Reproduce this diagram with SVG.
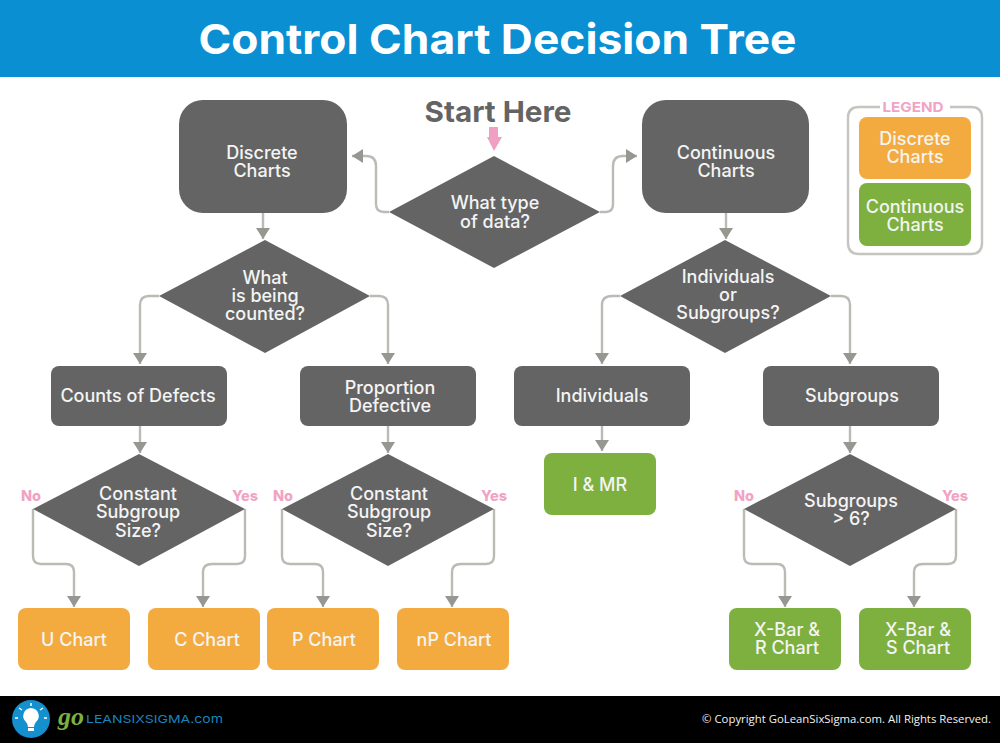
<svg xmlns="http://www.w3.org/2000/svg" width="1000" height="743" viewBox="0 0 1000 743">
<style>
text{font-family:Inter,"Open Sans",sans-serif;text-anchor:middle}
.t{font-size:18px;fill:#f4f4f4;font-weight:500}
.g{fill:#646464}
.o{fill:#f3ab3f}
.v{fill:#7db03f}
.c{fill:none;stroke:#bbbbb5;stroke-width:2.4}
.p{font-size:14.5px;font-weight:800;fill:#f0a3c4}
</style>
<defs>
<marker id="a" markerUnits="userSpaceOnUse" markerWidth="13" markerHeight="14" refX="11" refY="7" orient="auto"><path d="M0 0L11 7L0 14Z" fill="#979792"/></marker>
</defs>
<rect width="1000" height="743" fill="#fff"/>
<rect width="1000" height="77" fill="#0b8fd3"/>
<text x="497.500" y="54" font-size="41.500" font-weight="700" fill="#fff" textLength="598" lengthAdjust="spacingAndGlyphs">Control Chart Decision Tree</text>
<g id="connectors">
<path class="c" marker-end="url(#a)" d="M389 212H384Q376 212 376 204V166Q376 156 366 156H352"/>
<path class="c" marker-end="url(#a)" d="M600 212H606Q613 212 613 204V166Q613 156 623 156H637"/>
<path class="c" marker-end="url(#a)" d="M263 212V239"/>
<path class="c" marker-end="url(#a)" d="M726 212V239"/>
<path class="c" marker-end="url(#a)" d="M159 296H149Q140 296 140 305V364"/>
<path class="c" marker-end="url(#a)" d="M370 296H379Q388 296 388 305V364"/>
<path class="c" marker-end="url(#a)" d="M620 296H612Q602 296 602 305V364"/>
<path class="c" marker-end="url(#a)" d="M831 296H841Q850 296 850 305V364"/>
<path class="c" marker-end="url(#a)" d="M140 426V453"/>
<path class="c" marker-end="url(#a)" d="M388 426V453"/>
<path class="c" marker-end="url(#a)" d="M602 426V451"/>
<path class="c" marker-end="url(#a)" d="M850 426V453"/>
<path class="c" d="M33 509V556Q33 564 41 564H66Q74 564 74 572V607" marker-end="url(#a)"/>
<path class="c" d="M245 509V556Q245 564 237 564H212Q203 564 203 572V607" marker-end="url(#a)"/>
<path class="c" d="M282 509V556Q282 564 290 564H315Q323 564 323 572V607" marker-end="url(#a)"/>
<path class="c" d="M494 509V556Q494 564 486 564H461Q452 564 452 572V607" marker-end="url(#a)"/>
<path class="c" d="M744 509V556Q744 564 752 564H777Q785 564 785 572V607" marker-end="url(#a)"/>
<path class="c" d="M956 509V556Q956 564 948 564H923Q914 564 914 572V607" marker-end="url(#a)"/>
</g>
<g id="start">
<text x="498" y="122" font-size="29" font-weight="700" fill="#646464" textLength="147" lengthAdjust="spacingAndGlyphs">Start Here</text>
<path d="M489 127H498V137H502L494 151L487 137H489Z" fill="#f0a0c3"/>
</g>
<g id="n-type"><path class="g" d="M494 156L600 212L494 268L389 212Z"/><text class="t"><tspan x="495" y="209">What type</tspan><tspan x="495" y="228">of data?</tspan></text></g>
<g id="n-discrete"><rect class="g" x="179" y="100" width="168" height="113" rx="24"/><text class="t"><tspan x="262" y="159">Discrete</tspan><tspan x="262" y="177">Charts</tspan></text></g>
<g id="n-continuous"><rect class="g" x="642" y="100" width="167" height="113" rx="24"/><text class="t"><tspan x="726" y="159">Continuous</tspan><tspan x="726" y="177">Charts</tspan></text></g>
<g id="n-counted"><path class="g" d="M265 240L370 296L265 353L159 296Z"/><text class="t"><tspan x="265" y="284">What</tspan><tspan x="265" y="302">is being</tspan><tspan x="265" y="320">counted?</tspan></text></g>
<g id="n-indsub"><path class="g" d="M725 240L831 296L725 353L620 296Z"/><text class="t"><tspan x="728" y="283">Individuals</tspan><tspan x="728" y="301">or</tspan><tspan x="728" y="319">Subgroups?</tspan></text></g>
<g id="n-defects"><rect class="g" x="51" y="366" width="176" height="60" rx="8"/><text class="t" x="138" y="402">Counts of Defects</text></g>
<g id="n-proportion"><rect class="g" x="300" y="366" width="176" height="60" rx="8"/><text class="t"><tspan x="390" y="394">Proportion</tspan><tspan x="390" y="412">Defective</tspan></text></g>
<g id="n-individuals"><rect class="g" x="514" y="366" width="176" height="60" rx="8"/><text class="t" x="602" y="402">Individuals</text></g>
<g id="n-subgroups"><rect class="g" x="763" y="366" width="176" height="60" rx="8"/><text class="t" x="852" y="402">Subgroups</text></g>
<g id="n-imr"><rect class="v" x="544" y="453" width="112" height="62" rx="8"/><text class="t" x="600" y="491">I &amp; MR</text></g>
<g id="n-size1"><path class="g" d="M139 454L245 509L139 566L33 509Z"/><text class="t"><tspan x="138" y="500">Constant</tspan><tspan x="138" y="518">Subgroup</tspan><tspan x="138" y="537">Size?</tspan></text><text class="p" x="31" y="501">No</text><text class="p" x="245" y="501">Yes</text></g>
<g id="n-size2"><path class="g" d="M388 454L494 509L388 566L282 509Z"/><text class="t"><tspan x="389" y="500">Constant</tspan><tspan x="389" y="518">Subgroup</tspan><tspan x="389" y="537">Size?</tspan></text><text class="p" x="283" y="501">No</text><text class="p" x="494" y="501">Yes</text></g>
<g id="n-size3"><path class="g" d="M850 454L956 509L850 566L744 509Z"/><text class="t"><tspan x="851" y="507">Subgroups</tspan><tspan x="851" y="525">&gt; 6?</tspan></text><text class="p" x="744" y="501">No</text><text class="p" x="955" y="501">Yes</text></g>
<g id="n-u"><rect class="o" x="18" y="608" width="112" height="62" rx="8"/><text class="t" x="74" y="646">U Chart</text></g>
<g id="n-c"><rect class="o" x="148" y="608" width="112" height="62" rx="8"/><text class="t" x="207" y="646">C Chart</text></g>
<g id="n-p"><rect class="o" x="267" y="608" width="112" height="62" rx="8"/><text class="t" x="324" y="646">P Chart</text></g>
<g id="n-np"><rect class="o" x="397" y="608" width="112" height="62" rx="8"/><text class="t" x="454" y="646">nP Chart</text></g>
<g id="n-xr"><rect class="v" x="729" y="608" width="112" height="62" rx="8"/><text class="t"><tspan x="787" y="636">X-Bar &amp;</tspan><tspan x="787" y="654">R Chart</tspan></text></g>
<g id="n-xs"><rect class="v" x="859" y="608" width="112" height="62" rx="8"/><text class="t"><tspan x="918" y="636">X-Bar &amp;</tspan><tspan x="918" y="654">S Chart</tspan></text></g>
<g id="legend">
<path d="M880 107H859Q848 107 848 118V243Q848 254 859 254H971Q982 254 982 243V118Q982 107 971 107H950" fill="none" stroke="#c4c4c0" stroke-width="2.400"/>
<text x="913" y="112" font-size="13.500" font-weight="700" fill="#f0a3c4" textLength="61" lengthAdjust="spacingAndGlyphs">LEGEND</text>
<rect class="o" x="859" y="117" width="112" height="62" rx="8"/><text class="t"><tspan x="915" y="145">Discrete</tspan><tspan x="915" y="163">Charts</tspan></text>
<rect class="v" x="859" y="183" width="112" height="63" rx="8"/><text class="t"><tspan x="915" y="213">Continuous</tspan><tspan x="915" y="231">Charts</tspan></text>
</g>
<g id="footer">
<rect y="696" width="1000" height="47" fill="#000"/>
<circle cx="31" cy="719" r="19" fill="#1490cf"/>
<path d="M31 708A8 8 0 0 0 26 722Q28 724 28 727H34Q34 724 36 722A8 8 0 0 0 31 708Z" fill="#fff"/>
<rect x="28" y="728" width="6" height="3" fill="#fff"/>
<path d="M31 703V706M19 708L22 710M43 708L40 710M15 718H18M44 718H47" stroke="#fff" stroke-width="1.500"/>
<text x="71" y="725" font-size="26" font-style="italic" font-weight="700" fill="#7db03f" style="font-family:'Liberation Serif',serif">go</text>
<text x="86" y="723" font-size="11" fill="#1a84bd" style="text-anchor:start" textLength="137" lengthAdjust="spacingAndGlyphs">LEANSIXSIGMA.com</text>
<text x="991" y="723" font-size="11.350" fill="#f2f2f2" style="text-anchor:end;font-family:'Open Sans',sans-serif">© Copyright GoLeanSixSigma.com. All Rights Reserved.</text>
</g>
</svg>
